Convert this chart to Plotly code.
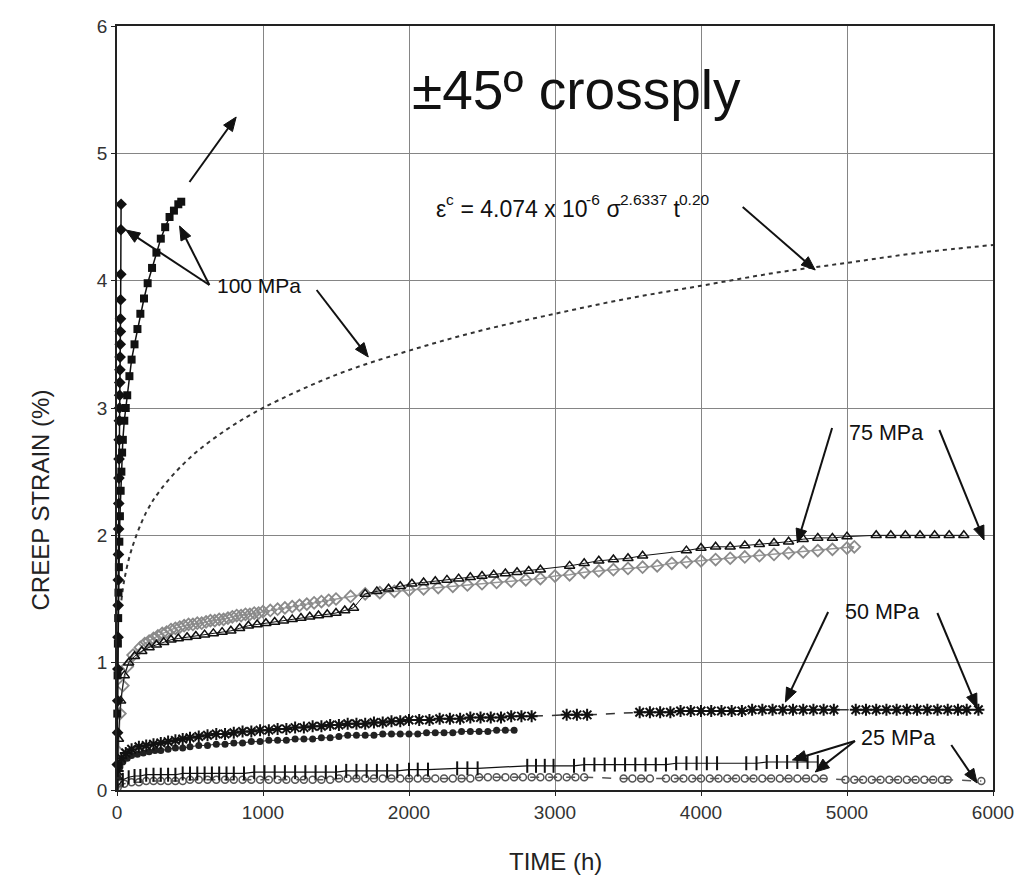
import math
import plotly.graph_objects as go

# ---------------- data ----------------
# 100 MPa, specimen 1 (filled diamonds)
t_100a = [2, 4, 5, 6, 7, 8, 9, 10, 11, 12, 13, 14, 15, 16, 17, 18, 19, 20, 21, 22, 23, 24, 25, 26, 27, 28]
e_100a = [0.2, 0.45, 0.7, 0.95, 1.2, 1.45, 1.65, 1.85, 2.05, 2.25, 2.45, 2.6, 2.75, 2.9, 3.0, 3.1,
          3.2, 3.3, 3.4, 3.5, 3.6, 3.7, 3.85, 4.05, 4.4, 4.6]

# 100 MPa, specimen 2 (filled squares)
t_100b = [2, 4, 6, 8, 10, 13, 16, 20, 25, 30, 35, 40, 50, 60, 70, 85, 100, 120, 140, 160, 185, 210,
          240, 270, 300, 330, 360, 390, 420, 440]
e_100b = [0.6, 0.9, 1.15, 1.35, 1.55, 1.75, 1.95, 2.15, 2.35, 2.5, 2.65, 2.75, 2.9, 3.0, 3.1, 3.25,
          3.38, 3.5, 3.62, 3.74, 3.86, 3.98, 4.1, 4.22, 4.33, 4.42, 4.5, 4.55, 4.6, 4.62]

# 75 MPa, specimen 1 (open triangles)
t_75a = [2, 10, 25, 50, 80, 120, 170, 220, 270, 320, 370, 420, 480, 540, 600, 660, 720, 780, 840, 900,
         960, 1020, 1080, 1140, 1200, 1260, 1320, 1380, 1440, 1500, 1560, 1620, 1700, 1780, 1860, 1940,
         2020, 2100, 2180, 2260, 2340, 2420, 2500, 2580, 2660, 2740, 2820, 2900, 3100, 3200, 3300, 3400,
         3500, 3600, 3900, 4000, 4100, 4200, 4300, 4400, 4500, 4600, 4700, 4800, 4900, 5000, 5200, 5300,
         5400, 5500, 5600, 5700, 5800]
e_75a = [0.1, 0.4, 0.7, 0.9, 1.0, 1.05, 1.09, 1.12, 1.14, 1.16, 1.18, 1.19, 1.2, 1.21, 1.22, 1.23,
         1.24, 1.25, 1.27, 1.29, 1.3, 1.31, 1.32, 1.33, 1.34, 1.35, 1.36, 1.37, 1.38, 1.39, 1.41, 1.43,
         1.54, 1.56, 1.58, 1.6, 1.62, 1.63, 1.64, 1.65, 1.66, 1.67, 1.68, 1.69, 1.7, 1.71, 1.72, 1.73,
         1.76, 1.78, 1.8, 1.81, 1.82, 1.84, 1.88, 1.9, 1.91, 1.91, 1.92, 1.93, 1.94, 1.95, 1.97, 1.98,
         1.98, 1.99, 2.0, 2.0, 2.0, 2.0, 2.0, 2.0, 2.0]

# 75 MPa, specimen 2 (grey open diamonds)
t_75b = [2, 8, 20, 40, 70, 110, 160, 190, 220, 250, 280, 310, 340, 370, 400, 430, 460, 490, 520, 550,
         580, 610, 640, 670, 700, 730, 760, 790, 820, 850, 880, 910, 940, 970, 1000, 1050, 1100, 1150,
         1200, 1250, 1300, 1350, 1400, 1450, 1500, 1600, 1700, 1800, 1900, 2000, 2100, 2200, 2300, 2400,
         2500, 2600, 2700, 2800, 2900, 3000, 3100, 3200, 3300, 3400, 3500, 3600, 3700, 3800, 3900, 4000,
         4100, 4200, 4300, 4400, 4500, 4600, 4700, 4800, 4900, 5000, 5050]
e_75b = [0.05, 0.3, 0.6, 0.82, 0.97, 1.06, 1.12, 1.15, 1.17, 1.19, 1.21, 1.23, 1.24, 1.26, 1.27, 1.28,
         1.29, 1.3, 1.3, 1.31, 1.31, 1.32, 1.33, 1.33, 1.34, 1.34, 1.35, 1.36, 1.37, 1.37, 1.38, 1.38,
         1.39, 1.39, 1.4, 1.41, 1.42, 1.43, 1.44, 1.45, 1.46, 1.47, 1.48, 1.49, 1.5, 1.52, 1.54, 1.55,
         1.56, 1.57, 1.58, 1.59, 1.6, 1.61, 1.62, 1.63, 1.64, 1.65, 1.66, 1.68, 1.69, 1.71, 1.72, 1.73,
         1.74, 1.75, 1.76, 1.78, 1.79, 1.8, 1.81, 1.82, 1.83, 1.84, 1.85, 1.86, 1.87, 1.88, 1.89, 1.9, 1.91]

# 50 MPa, specimen 1 (stars, dashed line)
t_50a = [5, 30, 60, 100, 150, 200, 250, 300, 350, 400, 450, 500, 560, 620, 680, 740, 800, 860, 920,
         980, 1040, 1100, 1160, 1220, 1280, 1340, 1400, 1460, 1520, 1580, 1640, 1700, 1760, 1820, 1880,
         1940, 2000, 2070, 2140, 2210, 2280, 2350, 2420, 2490, 2560, 2630, 2700, 2770, 2840, 3080, 3150,
         3220, 3580, 3650, 3720, 3790, 3860, 3930, 4000, 4070, 4140, 4210, 4280, 4350, 4420, 4490, 4560,
         4630, 4700, 4770, 4840, 4910, 5060, 5130, 5200, 5270, 5340, 5410, 5480, 5550, 5620, 5690, 5760,
         5820, 5900]
e_50a = [0.15, 0.25, 0.29, 0.32, 0.34, 0.35, 0.36, 0.37, 0.38, 0.39, 0.4, 0.41, 0.42, 0.43, 0.44,
         0.44, 0.45, 0.46, 0.46, 0.47, 0.47, 0.48, 0.48, 0.49, 0.49, 0.5, 0.5, 0.51, 0.51, 0.52, 0.52,
         0.52, 0.53, 0.53, 0.54, 0.54, 0.55, 0.55, 0.55, 0.56, 0.56, 0.56, 0.57, 0.57, 0.57, 0.57, 0.58,
         0.58, 0.58, 0.59, 0.59, 0.59, 0.61, 0.61, 0.61, 0.61, 0.62, 0.62, 0.62, 0.62, 0.62, 0.62, 0.62,
         0.63, 0.63, 0.63, 0.63, 0.63, 0.63, 0.63, 0.63, 0.63, 0.63, 0.63, 0.63, 0.63, 0.63, 0.63, 0.63,
         0.63, 0.63, 0.63, 0.63, 0.63, 0.63]

# 50 MPa, specimen 2 (filled circles)
t_50b = [5, 20, 40, 70, 100, 140, 180, 220, 260, 300, 350, 400, 450, 500, 560, 620, 680, 740, 800,
         860, 920, 980, 1040, 1100, 1160, 1220, 1280, 1340, 1400, 1460, 1520, 1580, 1640, 1700, 1760,
         1820, 1880, 1940, 2000, 2060, 2120, 2180, 2240, 2300, 2360, 2420, 2480, 2540, 2600, 2660, 2720]
e_50b = [0.1, 0.18, 0.22, 0.25, 0.27, 0.28, 0.29, 0.3, 0.31, 0.31, 0.32, 0.33, 0.33, 0.34, 0.35,
         0.35, 0.36, 0.36, 0.37, 0.37, 0.38, 0.38, 0.39, 0.39, 0.39, 0.4, 0.4, 0.4, 0.41, 0.41, 0.42,
         0.43, 0.43, 0.43, 0.43, 0.44, 0.44, 0.44, 0.44, 0.44, 0.45, 0.45, 0.45, 0.45, 0.46, 0.46, 0.46,
         0.46, 0.47, 0.47, 0.47]

# 25 MPa, specimen 1 (vertical bars)
t_25a = [5, 40, 80, 120, 160, 200, 250, 300, 350, 400, 450, 500, 550, 600, 650, 700, 750, 800, 870,
         940, 1010, 1080, 1150, 1220, 1290, 1360, 1430, 1500, 1570, 1640, 1710, 1780, 1850, 1920, 2000,
         2060, 2130, 2330, 2400, 2470, 2810, 2870, 2930, 2990, 3130, 3200, 3270, 3340, 3410, 3480, 3550,
         3620, 3690, 3760, 3830, 3900, 3970, 4040, 4110, 4310, 4380, 4450, 4520, 4590, 4660, 4730, 4800]
e_25a = [0.03, 0.08, 0.1, 0.11, 0.11, 0.12, 0.12, 0.12, 0.12, 0.12, 0.13, 0.13, 0.13, 0.13, 0.13,
         0.13, 0.13, 0.13, 0.13, 0.14, 0.14, 0.14, 0.14, 0.14, 0.14, 0.14, 0.14, 0.14, 0.15, 0.15, 0.15,
         0.15, 0.15, 0.15, 0.16, 0.16, 0.16, 0.17, 0.17, 0.17, 0.19, 0.19, 0.19, 0.19, 0.19, 0.2, 0.2,
         0.2, 0.2, 0.2, 0.2, 0.2, 0.2, 0.2, 0.21, 0.21, 0.21, 0.21, 0.21, 0.21, 0.21, 0.22, 0.22, 0.22,
         0.22, 0.22, 0.22]

# 25 MPa, specimen 2 (open circles, dashed line)
t_25b = [5, 50, 100, 150, 200, 250, 300, 350, 400, 450, 500, 560, 620, 680, 740, 800, 860, 920, 980,
         1040, 1100, 1160, 1220, 1280, 1340, 1400, 1460, 1520, 1580, 1640, 1700, 1760, 1820, 1880, 1940,
         2000, 2060, 2120, 2180, 2240, 2300, 2360, 2420, 2480, 2540, 2600, 2660, 2720, 2780, 2840, 2900,
         2960, 3020, 3080, 3140, 3200, 3470, 3530, 3590, 3650, 3760, 3820, 3880, 3940, 4000, 4060, 4120,
         4180, 4240, 4300, 4360, 4420, 4480, 4540, 4600, 4660, 4720, 4780, 4840, 4990, 5050, 5110, 5170,
         5230, 5290, 5350, 5410, 5470, 5530, 5590, 5650, 5690, 5920]
e_25b = [0.02, 0.05, 0.06, 0.06, 0.07, 0.07, 0.07, 0.07, 0.07, 0.07, 0.08, 0.08, 0.08, 0.08, 0.08,
         0.08, 0.08, 0.08, 0.08, 0.08, 0.08, 0.08, 0.08, 0.08, 0.08, 0.08, 0.08, 0.09, 0.09, 0.09, 0.09,
         0.09, 0.09, 0.09, 0.09, 0.09, 0.09, 0.09, 0.09, 0.09, 0.09, 0.09, 0.09, 0.1, 0.1, 0.1, 0.1,
         0.1, 0.1, 0.1, 0.1, 0.1, 0.1, 0.1, 0.1, 0.1, 0.09, 0.09, 0.09, 0.09, 0.09, 0.09, 0.09, 0.09,
         0.09, 0.09, 0.09, 0.09, 0.09, 0.09, 0.09, 0.09, 0.09, 0.09, 0.09, 0.09, 0.09, 0.09, 0.09, 0.08,
         0.08, 0.08, 0.08, 0.08, 0.08, 0.08, 0.08, 0.08, 0.08, 0.08, 0.08, 0.08, 0.07]

# power-law fit curve for 100 MPa (dashed)
t_fit = [30, 50, 100, 200, 300, 500, 750, 1000, 1500, 2000, 2500, 3000, 3500, 4000, 4500, 5000, 5500, 6000]
e_fit = [1.49, 1.65, 1.89, 2.18, 2.36, 2.61, 2.83, 3.0, 3.26, 3.45, 3.61, 3.74, 3.86, 3.96, 4.06, 4.14, 4.22, 4.28]

x_ticks = [0, 1000, 2000, 3000, 4000, 5000, 6000]
y_ticks = [0, 1, 2, 3, 4, 5, 6]

# fit equation, as (text, is_superscript) pieces
eq_parts = [("ε", False), ("c", True), (" = 4.074 x 10", False), ("-6", True), (" σ", False),
            ("2.6337", True), (" t", False), ("0.20", True)]

# ---------------- figure ----------------
W, H = 1026, 882
L, R, T, B = 117, 27, 26, 92
FONT = "Liberation Sans, Arial, sans-serif"

# approximate Arial advance widths (1/1000 em)
ADV = {" ": 278, ".": 278, "-": 333, "=": 584, "x": 500, "t": 278, "c": 500, "ε": 446, "σ": 571}
for _d in "0123456789":
    ADV[_d] = 556


def text_w(s, size):
    return sum(ADV.get(ch, 556) for ch in s) * size / 1000.0


def px2x(px):
    return (px - L) / (W - L - R) * 6000


def px2y(py):
    return (H - B - py) / (H - T - B) * 6


fig = go.Figure()

fig.add_trace(go.Scatter(x=t_fit, y=e_fit, mode="lines", line=dict(color="#333", width=2, dash="4px,4px"),
                         line_shape="spline", cliponaxis=False))

fig.add_trace(go.Scatter(x=t_75b, y=e_75b, mode="lines+markers",
                         line=dict(color="#999", width=1.5),
                         marker=dict(symbol="diamond-open", size=9, color="#8a8a8a", line=dict(width=1.8))))
fig.add_trace(go.Scatter(x=t_75a, y=e_75a, mode="lines+markers",
                         line=dict(color="#111", width=1),
                         marker=dict(symbol="triangle-up-open", size=9, color="#111", line=dict(width=1.5))))

fig.add_trace(go.Scatter(x=t_50b, y=e_50b, mode="lines+markers",
                         line=dict(color="#222", width=1),
                         marker=dict(symbol="circle", size=7, color="#222")))
fig.add_trace(go.Scatter(x=t_50a, y=e_50a, mode="lines+markers",
                         line=dict(color="#333", width=1.5, dash="dash"),
                         marker=dict(symbol="asterisk-open", size=10, color="#111", line=dict(width=2))))

fig.add_trace(go.Scatter(x=t_25b, y=e_25b, mode="lines+markers",
                         line=dict(color="#555", width=1.5, dash="dash"),
                         marker=dict(symbol="circle-open", size=7, color="#555", line=dict(width=1.5))))
fig.add_trace(go.Scatter(x=t_25a, y=e_25a, mode="lines+markers",
                         line=dict(color="#111", width=1.2),
                         marker=dict(symbol="line-ns-open", size=10, color="#111", line=dict(width=2))))

fig.add_trace(go.Scatter(x=t_100b, y=e_100b, mode="lines+markers", cliponaxis=False,
                         line=dict(color="#111", width=1.5),
                         marker=dict(symbol="square", size=8, color="#111")))
fig.add_trace(go.Scatter(x=t_100a, y=e_100a, mode="lines+markers", cliponaxis=False,
                         line=dict(color="#111", width=1.5),
                         marker=dict(symbol="diamond", size=9, color="#111")))

ann = []
shapes = []


def text(px, py, s, size=21, anchor="center"):
    ann.append(dict(x=px2x(px), y=px2y(py), xref="x", yref="y", text=s, showarrow=False,
                    xanchor=anchor, yanchor="middle", borderpad=0,
                    font=dict(family=FONT, size=size, color="#111")))


def arrow(tx, ty, hx, hy, head_len=14, head_w=5.5):
    dx, dy = hx - tx, hy - ty
    d = math.hypot(dx, dy)
    ux, uy = dx / d, dy / d
    nx, ny = -uy, ux
    bx, by = hx - ux * head_len, hy - uy * head_len
    shapes.append(dict(type="line", xref="x", yref="y", x0=px2x(tx), y0=px2y(ty),
                       x1=px2x(bx + ux * 2), y1=px2y(by + uy * 2), line=dict(color="#111", width=2)))
    p1 = (bx + nx * head_w, by + ny * head_w)
    p2 = (bx - nx * head_w, by - ny * head_w)
    path = "M {} {} L {} {} L {} {} Z".format(px2x(hx), px2y(hy), px2x(p1[0]), px2y(p1[1]),
                                              px2x(p2[0]), px2y(p2[1]))
    shapes.append(dict(type="path", xref="x", yref="y", path=path, fillcolor="#111",
                       line=dict(color="#111", width=1)))


text(580, 90, "±45º crossply", size=55)
text(260, 285, "100 MPa", size=21)
arrow(210, 285, 126, 230)
arrow(210, 285, 180, 226)
arrow(318, 290, 370, 357)
arrow(190, 182, 237, 117)

# equation built from pieces (base text + raised smaller superscripts)
BASE, SUP = 23, 15.5
cx = 437.0
for s, sup in eq_parts:
    size = SUP if sup else BASE
    text(cx, 199 if sup else 209, s, size=size, anchor="left")
    cx += text_w(s, size)

arrow(747, 207, 820, 270)
text(891, 433, "75 MPa", size=21.5)
arrow(837, 428, 802, 543)
arrow(945, 430, 990, 540)
text(887, 612, "50 MPa", size=21.5)
arrow(833, 612, 790, 702)
arrow(943, 613, 983, 708)
text(903, 738, "25 MPa", size=21.5)
arrow(860, 741, 797, 760)
arrow(860, 741, 820, 772)
arrow(957, 745, 983, 783)

# axis titles
ann.append(dict(x=(40 - L) / (W - L - R), y=(H - B - 500) / (H - T - B), xref="paper", yref="paper",
                text="CREEP STRAIN (%)", textangle=-90, showarrow=False, xanchor="center",
                yanchor="middle", font=dict(family=FONT, size=24, color="#222")))
ann.append(dict(x=(558 - L) / (W - L - R), y=(H - B - 861) / (H - T - B), xref="paper", yref="paper",
                text="TIME (h)", showarrow=False, xanchor="center", yanchor="middle",
                font=dict(family=FONT, size=24, color="#222")))

axis_common = dict(showgrid=True, gridcolor="#858585", gridwidth=1, showline=True, linecolor="#222",
                   linewidth=1.5, mirror=True, ticks="outside", ticklen=4, tickcolor="#222",
                   zeroline=False, tickfont=dict(family=FONT, size=19, color="#333"))

fig.update_layout(
    width=W, height=H, autosize=False,
    margin=dict(l=L, r=R, t=T, b=B),
    paper_bgcolor="white", plot_bgcolor="white",
    showlegend=False,
    annotations=ann,
    shapes=shapes,
    xaxis=dict(range=[0, 6000], tickvals=x_ticks, ticktext=[str(v) for v in x_ticks], **axis_common),
    yaxis=dict(range=[0, 6], tickvals=y_ticks, ticktext=[str(v) for v in y_ticks], **axis_common),
)

fig.write_html("out.html")
